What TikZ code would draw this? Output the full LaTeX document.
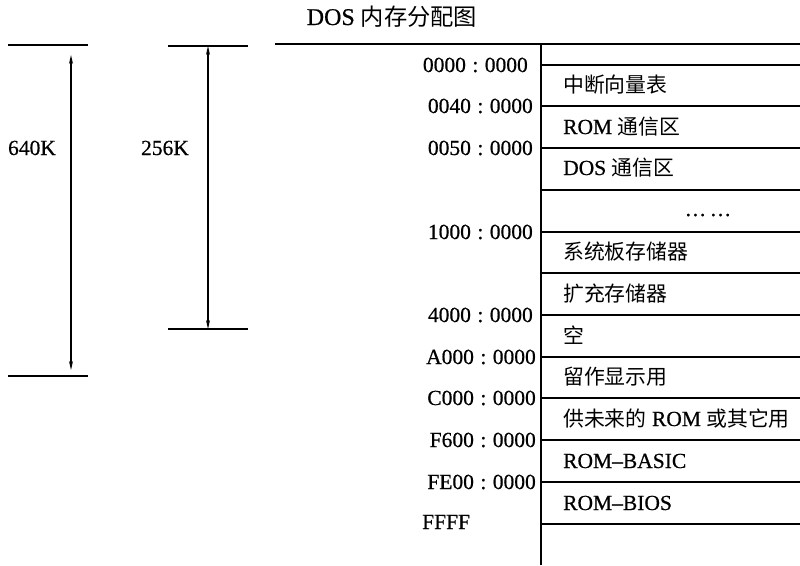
\documentclass[tikz,border=0pt]{standalone}
\usepackage{fontspec}
\setmainfont{Liberation Serif}[FakeBold=0.6]
\newfontfamily\cjk{Noto Sans CJK SC}[Scale=0.97]
\newcommand\zhs[1]{{\cjk #1}}
\newcommand\adr[2]{#1\hspace{0.3em}:\hspace{0.3em}#2}
\usetikzlibrary{arrows.meta}
\begin{document}
\begin{tikzpicture}[x=1pt,y=-1pt,
  lbl/.style={font=\fontsize{21.5}{24}\selectfont, inner sep=0pt, text height=16pt, text depth=2pt},
  addr/.style={lbl, anchor=east},
  cell/.style={lbl, anchor=west},
  rule/.style={line width=1.2pt},
  dim/.style={line width=1.2pt, {Stealth[length=9pt,width=4pt]}-{Stealth[length=9pt,width=4pt]}}]
\useasboundingbox (0,0) rectangle (800,565);
% title
\node[lbl, font=\fontsize{24}{28}\selectfont, text height=18pt] (title) at (392,17) {DOS \zhs{内存分配图}};
% table rules
\draw[rule] (275,44) -- (800,44);
\draw[rule] (541,44) -- (541,565);
\foreach \y in {65,106,148,190,232,273,315,357,398,440,482,524}
  \draw[rule] (541,\y) -- (800,\y);
% addresses
\node[addr] (r0) at (528,65) {\adr{0000}{0000}};
\node[addr] (r1) at (533,106) {\adr{0040}{0000}};
\node[addr] (r2) at (533,148) {\adr{0050}{0000}};
\node[addr] (r3) at (533,232) {\adr{1000}{0000}};
\node[addr] (r4) at (533,315) {\adr{4000}{0000}};
\node[addr] (r5) at (536,357) {\adr{A000}{0000}};
\node[addr] (r6) at (536,398) {\adr{C000}{0000}};
\node[addr] (r7) at (536,440) {\adr{F600}{0000}};
\node[addr] (r8) at (536,482) {\adr{FE00}{0000}};
\node[lbl, anchor=west] (r9) at (422,522) {FFFF};
% cells
\node[cell] (c0) at (563,85) {\zhs{中断向量表}};
\node[cell] (c1) at (563,127) {ROM \zhs{通信区}};
\node[cell] (c2) at (563,168) {DOS \zhs{通信区}};
\node[lbl] (c3) at (708,209) {\ldots\,\ldots};
\node[cell] (c4) at (563,252) {\zhs{系统板存储器}};
\node[cell] (c5) at (563,294) {\zhs{扩充存储器}};
\node[cell] (c6) at (563,336) {\zhs{空}};
\node[cell] (c7) at (563,377) {\zhs{留作显示用}};
\node[cell] (c8) at (563,419) {\zhs{供未来的} ROM \zhs{或其它用}};
\node[cell] (c9) at (563,461) {ROM--BASIC};
\node[cell] (c10) at (563,503) {ROM--BIOS};
% 640K dimension
\draw[rule] (8,45) -- (88,45);
\draw[rule] (8,376) -- (88,376);
\coordinate (a1) at (71,55);
\coordinate (a2) at (71,370);
\draw[dim] (a1) -- (a2);
\node[lbl] (k640) at (32,148) {640K};
% 256K dimension
\draw[rule] (168,46) -- (248,46);
\draw[rule] (168,329) -- (248,329);
\coordinate (b1) at (208,46);
\coordinate (b2) at (208,329);
\draw[dim] (b1) -- (b2);
\node[lbl] (k256) at (165,148) {256K};
\end{tikzpicture}
\end{document}
